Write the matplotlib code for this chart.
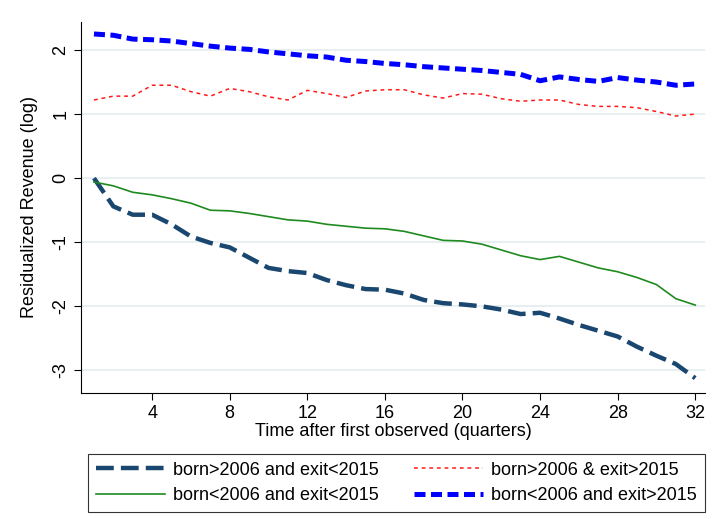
import matplotlib
matplotlib.use("Agg")
import matplotlib.pyplot as plt

plt.rcParams["font.family"] = ["Liberation Sans", "DejaVu Sans"]
plt.rcParams["axes.unicode_minus"] = False

# quarters after first observed
quarters = list(range(1, 33))

young_exit = [0.00, -0.44, -0.57, -0.57, -0.72, -0.91, -1.01, -1.08, -1.24, -1.40,
              -1.45, -1.48, -1.59, -1.67, -1.73, -1.74, -1.80, -1.90, -1.95, -1.97,
              -2.00, -2.05, -2.12, -2.10, -2.19, -2.29, -2.38, -2.47, -2.63, -2.77,
              -2.90, -3.12]
old_exit = [-0.06, -0.12, -0.22, -0.26, -0.32, -0.39, -0.50, -0.51, -0.55, -0.60,
            -0.65, -0.67, -0.72, -0.75, -0.78, -0.79, -0.83, -0.90, -0.97, -0.98,
            -1.03, -1.12, -1.21, -1.27, -1.22, -1.31, -1.40, -1.46, -1.55, -1.66,
            -1.88, -1.98]
young_stay = [1.22, 1.28, 1.28, 1.45, 1.45, 1.35, 1.28, 1.40, 1.35, 1.27,
              1.22, 1.37, 1.32, 1.26, 1.36, 1.38, 1.38, 1.30, 1.25, 1.32,
              1.31, 1.24, 1.20, 1.22, 1.22, 1.15, 1.12, 1.12, 1.10, 1.04,
              0.97, 1.00]
old_stay = [2.25, 2.23, 2.17, 2.16, 2.14, 2.10, 2.06, 2.03, 2.01, 1.97,
            1.94, 1.91, 1.89, 1.84, 1.82, 1.79, 1.77, 1.74, 1.72, 1.70,
            1.68, 1.65, 1.62, 1.52, 1.58, 1.54, 1.51, 1.57, 1.53, 1.50,
            1.45, 1.47]

labels = ["born>2006 and exit<2015", "born<2006 and exit<2015",
          "born>2006 & exit>2015", "born<2006 and exit>2015"]
x_ticks = list(range(4, 33, 4))
y_ticks = [-3, -2, -1, 0, 1, 2]

FS = 13

fig = plt.figure(figsize=(7.23, 5.19), dpi=100)
ax = fig.add_axes([0.112, 0.243, 0.863, 0.715])

for yt in y_ticks:
    ax.axhline(yt, color="#e8eff0", lw=1.5, zorder=0)

h1, = ax.plot(quarters, young_exit, color="#1a476f", lw=3.2,
              linestyle=(0, (4, 1.6)), label=labels[0])
h2, = ax.plot(quarters, old_exit, color="#1f8a1f", lw=1.2,
              linestyle="-", label=labels[1])
h3, = ax.plot(quarters, young_stay, color="#ff1a1a", lw=1.1,
              linestyle=(0, (2.5, 2.5)), label=labels[2])
h4, = ax.plot(quarters, old_stay, color="#0000ff", lw=3.6,
              linestyle=(0, (2.2, 1.1)), label=labels[3])

ax.set_xlim(0.33, 32.5)
ax.set_ylim(-3.35, 2.44)
ax.set_xticks(x_ticks)
ax.set_yticks(y_ticks)
ax.tick_params(axis="y", labelrotation=90, labelsize=FS, length=5)
ax.tick_params(axis="x", labelsize=FS, length=5)
for lab in ax.get_yticklabels():
    lab.set_verticalalignment("center")
ax.spines["top"].set_visible(False)
ax.spines["right"].set_visible(False)
ax.set_ylabel("Residualized Revenue (log)", fontsize=FS, labelpad=10)
ax.set_xlabel("Time after first observed (quarters)", fontsize=FS, labelpad=1)

leg = fig.legend(handles=[h1, h2, h3, h4], ncol=2, mode="expand",
                 bbox_to_anchor=(0.122, 0.0135, 0.853, 0.12), loc="lower left",
                 fontsize=FS, frameon=True, fancybox=False, edgecolor="black",
                 handlelength=3.8, handletextpad=0.45, borderaxespad=0,
                 borderpad=0.45, columnspacing=1.0, labelspacing=0.45)
leg.get_frame().set_linewidth(0.8)

fig.savefig("out.png", dpi=100)
